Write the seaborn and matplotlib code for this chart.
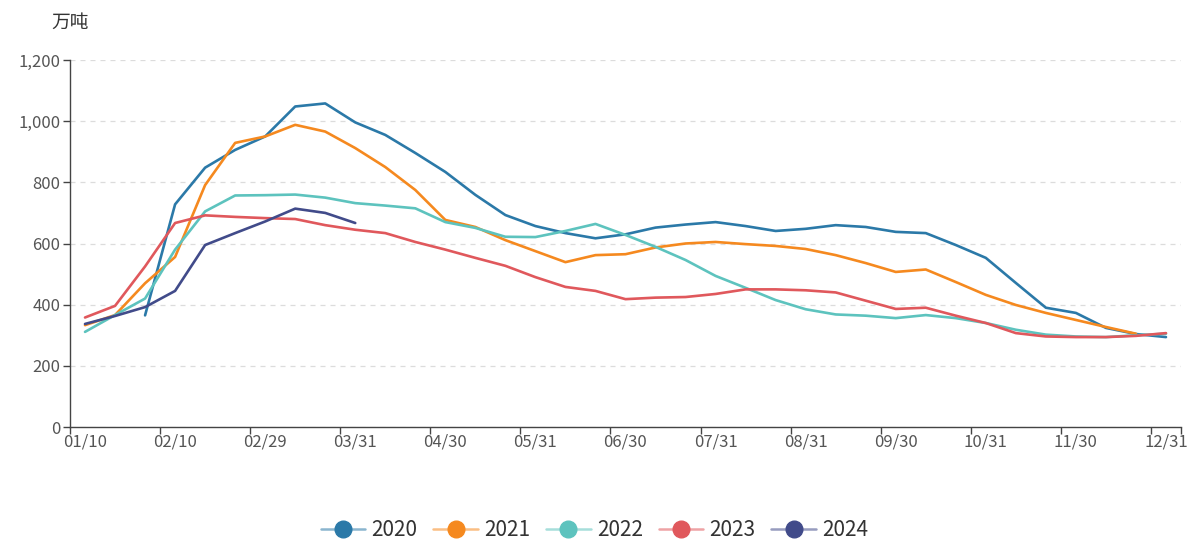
import numpy as np
import pandas as pd
import matplotlib
matplotlib.use("Agg")
import matplotlib.pyplot as plt
from matplotlib.lines import Line2D
from matplotlib.ticker import FuncFormatter, FixedLocator
import seaborn as sns

# ---- data ----
dates = ["01/10", "01/20", "01/31", "02/10", "02/20", "02/28", "02/29", "03/10", "03/20", "03/31",
         "04/10", "04/20", "04/30", "05/10", "05/20", "05/31", "06/10", "06/20", "06/30",
         "07/10", "07/20", "07/31", "08/10", "08/20", "08/31", "09/10", "09/20", "09/30",
         "10/10", "10/20", "10/31", "11/10", "11/20", "11/30", "12/10", "12/20", "12/31"]
tick_labels = ["01/10", "02/10", "02/29", "03/31", "04/30", "05/31", "06/30",
               "07/31", "08/31", "09/30", "10/31", "11/30", "12/31"]

v2020 = [None, None, 365, 728, 848, 906, 950, 1048, 1058, 996, 955, 896, 834, 759, 693, 657, 634,
         617, 630, 652, 662, 670, 657, 641, 648, 660, 654, 638, 634, 595, 553, 471, 390, 373, 324, 304, 294]
v2021 = [333, 366, 470, 556, 791, 929, 950, 988, 966, 912, 850, 775, 677, 654, 611, 575, 539,
         562, 565, 587, 600, 605, 598, 592, 582, 562, 536, 507, 515, 474, 432, 399, 373, 350, 327, 305, None]
v2022 = [311, 366, 420, 580, 705, 757, 758, 760, 750, 732, 724, 715, 670, 651, 622, 621, 641,
         664, 628, 589, 546, 494, 455, 415, 385, 368, 364, 356, 366, 356, 340, 318, 302, 296, 294, 300, 305]
v2023 = [358, 396, 525, 667, 692, 687, 683, 680, 660, 645, 634, 605, 580, 553, 527, 490, 458,
         445, 418, 423, 425, 435, 450, 450, 447, 440, 413, 386, 390, 364, 340, 307, 296, 294, 294, 298, 307]
v2024 = [337, 363, 392, 445, 595, 634, 672, 714, 700, 667] + [None] * 27

years = ["2020", "2021", "2022", "2023", "2024"]
series = [v2020, v2021, v2022, v2023, v2024]
colors = ["#2b79a8", "#f5891f", "#5dc3be", "#e0585c", "#414b8a"]

rows = []
for yr, vals in zip(years, series):
    for i, v in enumerate(vals):
        if v is not None:
            rows.append({"idx": i, "date": dates[i], "value": v, "year": yr})
df = pd.DataFrame(rows)

# ---- plot ----
sns.set_theme(style="white")
plt.rcParams["font.family"] = ["Noto Sans CJK SC", "DejaVu Sans"]

fig = plt.figure(figsize=(11.89, 5.41), dpi=100)
ax = fig.add_axes([70 / 1189, 1 - 427 / 541, (1181 - 70) / 1189, (427 - 60) / 541])

palette = dict(zip(years, colors))
sns.lineplot(data=df, x="idx", y="value", hue="year", palette=palette, ax=ax,
             linewidth=1.9, sort=True, legend=False, estimator=None)

ax.set_xlim(-0.5, len(dates) - 0.5)
ax.set_ylim(0, 1200)

# x ticks: labels at band centres, tick marks at band boundaries
label_pos = [dates.index(t) for t in tick_labels]
ax.xaxis.set_major_locator(FixedLocator(label_pos))
ax.set_xticklabels(tick_labels)
ax.xaxis.set_minor_locator(FixedLocator([p - 0.5 for p in label_pos] + [len(dates) - 0.5]))
ax.tick_params(axis="x", which="major", length=0, pad=5, labelsize=12, labelcolor="#555555")
ax.tick_params(axis="x", which="minor", length=5, width=1, color="#444444", direction="out", bottom=True)

ax.set_yticks(np.arange(0, 1201, 200))
ax.yaxis.set_major_formatter(FuncFormatter(lambda v, p: f"{int(v):,}"))
ax.tick_params(axis="y", which="major", length=5, width=1, color="#444444", direction="out",
               left=True, pad=2, labelsize=12, labelcolor="#555555")

ax.grid(axis="y", color="#dcdcdc", linestyle=(0, (4, 4)), linewidth=0.9)
ax.grid(axis="x", visible=False)
for s in ["top", "right"]:
    ax.spines[s].set_visible(False)
for s in ["left", "bottom"]:
    ax.spines[s].set_color("#444444")
    ax.spines[s].set_linewidth(1)
ax.set_xlabel("")
ax.set_ylabel("")

fig.text(70 / 1189, 1 - 22 / 541, "万吨", ha="center", va="center", fontsize=13.5, color="#333333")

# legend
def tint(c, f=0.45):
    rgb = np.array(matplotlib.colors.to_rgb(c))
    return tuple(rgb + (1 - rgb) * f)

handles = []
for c in colors:
    ln = Line2D([0], [0], color=tint(c), lw=1.8)
    mk = Line2D([0], [0], color=c, lw=0, marker="o", markersize=12,
                markerfacecolor=c, markeredgecolor=c)
    handles.append((ln, mk))
fig.legend(handles, years, loc="center", bbox_to_anchor=(0.5, 1 - 530 / 541), ncol=5,
           frameon=False, fontsize=15, handlelength=2.15, handletextpad=0.3, columnspacing=0.75,
           labelcolor="#333333", borderpad=0.2)

fig.savefig("out.png", dpi=100)
